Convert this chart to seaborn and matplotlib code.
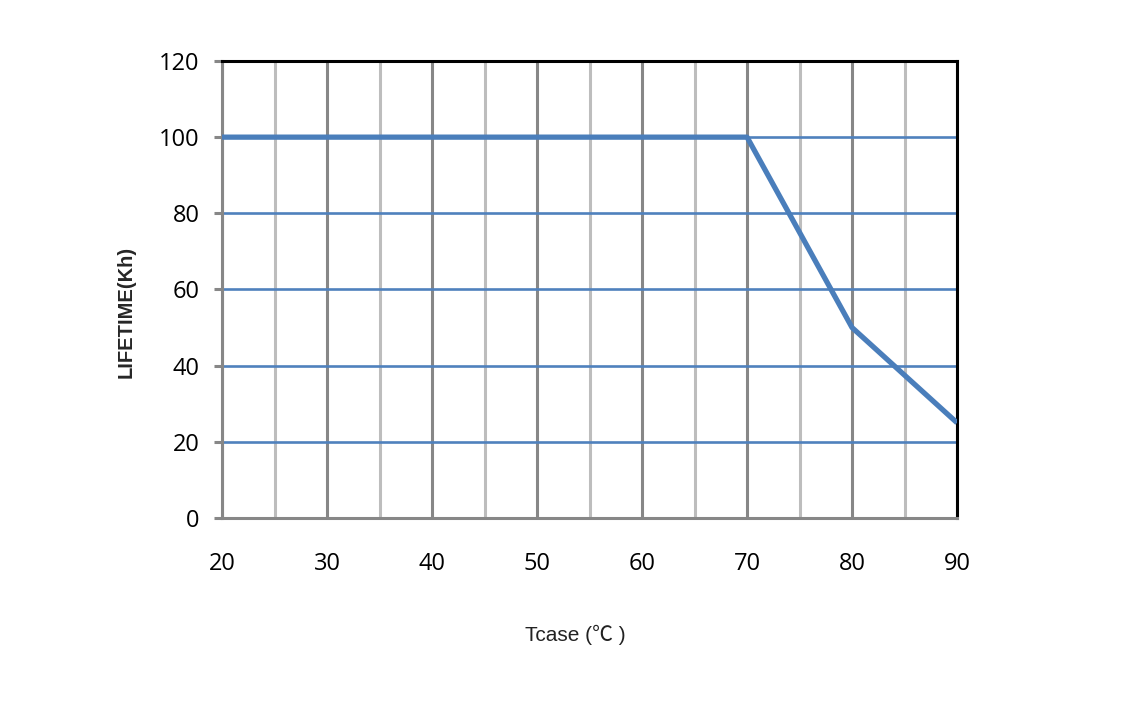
import numpy as np
import pandas as pd
import matplotlib
matplotlib.use("Agg")
import matplotlib.pyplot as plt
import seaborn as sns

# data
tcase = [20, 70, 80, 90]
lifetime = [100, 100, 50, 25]
x_ticks = [20, 30, 40, 50, 60, 70, 80, 90]
y_ticks = [0, 20, 40, 60, 80, 100, 120]

df = pd.DataFrame({"Tcase": tcase, "Lifetime": lifetime})

sns.set_style("white")

fig = plt.figure(figsize=(11.38, 7.25), dpi=100)
ax = fig.add_axes([0.1951, 0.2855, 0.6459, 0.6304])

# vertical grid: major dark gray, minor light gray
for x in np.arange(20, 91, 5):
    col = "#878787" if x % 10 == 0 else "#bdbdbd"
    ax.axvline(x, color=col, linewidth=2.2, zorder=1)

# horizontal grid in blue
for y in y_ticks[1:-1]:
    ax.axhline(y, color="#4f81bd", linewidth=1.9, zorder=1)

sns.lineplot(data=df, x="Tcase", y="Lifetime", color="#4a7ebb",
             linewidth=3.8, ax=ax, zorder=3)
ax.lines[-1].set_solid_capstyle("butt")

ax.set_xlim(20, 90)
ax.set_ylim(0, 120)
ax.set_xticks(x_ticks)
ax.set_yticks(y_ticks)

for sp in ["top", "right"]:
    ax.spines[sp].set_color("black")
    ax.spines[sp].set_linewidth(2.2)
for sp in ["left", "bottom"]:
    ax.spines[sp].set_color("#878787")
    ax.spines[sp].set_linewidth(2.2)

ax.tick_params(axis="y", left=True, length=6, width=2.2, color="#878787",
               pad=10, labelsize=17)
ax.tick_params(axis="x", bottom=False, pad=21, labelsize=17)
for lab in ax.get_xticklabels() + ax.get_yticklabels():
    lab.set_fontfamily(["Open Sans", "DejaVu Sans"])
    lab.set_color("black")

ax.set_xlabel("Tcase (℃ )", fontsize=15, labelpad=35, x=0.48,
              family=["Liberation Sans", "Noto Sans CJK SC", "DejaVu Sans"],
              color="#222222", fontstretch="condensed")
ax.set_ylabel("LIFETIME(Kh)", fontsize=14.5, fontweight="bold", labelpad=17,
              y=0.45, family=["Liberation Sans", "DejaVu Sans"])

plt.savefig("out.png", dpi=100)
plt.close()
